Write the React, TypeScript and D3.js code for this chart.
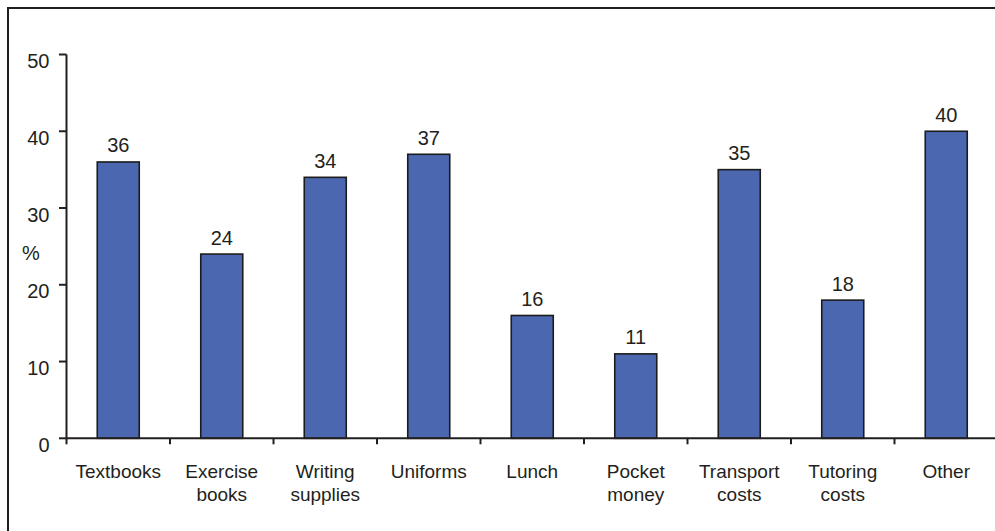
import React from "react";
import * as d3 from "d3";

const categories: string[][] = [
  ["Textbooks"],
  ["Exercise", "books"],
  ["Writing", "supplies"],
  ["Uniforms"],
  ["Lunch"],
  ["Pocket", "money"],
  ["Transport", "costs"],
  ["Tutoring", "costs"],
  ["Other"],
];
const values: number[] = [36, 24, 34, 37, 16, 11, 35, 18, 40];
const yTicks: number[] = [0, 10, 20, 30, 40, 50];
const yLabel = "%";

const W = 995;
const H = 531;
const FONT = "'Liberation Sans', Arial, sans-serif";

export default function App() {
  const x0 = 66.5;
  const band = 103.5;
  const x = d3
    .scaleBand<number>()
    .domain(d3.range(categories.length))
    .range([x0, x0 + band * categories.length])
    .paddingInner(0.6)
    .paddingOuter(0.3);
  const y = d3.scaleLinear().domain([0, 50]).range([438.3, 54.5]);
  const barW = 42;
  const cx = (i: number) => x0 + band * i + band / 2;

  return (
    <svg
      width={W}
      height={H}
      style={{ position: "absolute", left: 0, top: 0, display: "block" }}
      fontFamily={FONT}
    >
      <rect x={0} y={0} width={W} height={H} fill="#fff" />
      {/* frame */}
      <rect x={8} y={8} width={W + 10} height={H + 10} fill="none" stroke="#231f20" strokeWidth={2} />

      {/* bars */}
      {values.map((v, i) => (
        <g key={i}>
          <rect
            x={cx(i) - barW / 2}
            y={y(v)}
            width={barW}
            height={y(0) - y(v)}
            fill="#4a67af"
            stroke="#1c1c1c"
            strokeWidth={1.6}
          />
          <text
            x={cx(i)}
            y={y(v) - 9.5}
            textAnchor="middle"
            fontSize={20}
            fill="#231f20"
          >
            {v}
          </text>
        </g>
      ))}

      {/* y axis */}
      <line x1={x0} x2={x0} y1={y(50)} y2={y(0)} stroke="#231f20" strokeWidth={2} />
      {yTicks.map((t) => (
        <g key={t}>
          <line x1={59} x2={x0} y1={y(t)} y2={y(t)} stroke="#231f20" strokeWidth={2} />
          <text x={49.5} y={y(t) + 13.5} textAnchor="end" fontSize={20} fill="#231f20">
            {t}
          </text>
        </g>
      ))}
      <text x={22} y={260} fontSize={20} fill="#231f20">
        {yLabel}
      </text>

      {/* x axis */}
      <line x1={x0} x2={x0 + band * categories.length} y1={y(0)} y2={y(0)} stroke="#231f20" strokeWidth={2} />
      {d3.range(categories.length + 1).map((k) => (
        <line
          key={k}
          x1={x0 + band * k}
          x2={x0 + band * k}
          y1={y(0)}
          y2={y(0) + 6}
          stroke="#231f20"
          strokeWidth={2}
        />
      ))}
      {categories.map((lines, i) => (
        <text key={i} textAnchor="middle" fontSize={19} fill="#231f20">
          {lines.map((l, j) => (
            <tspan key={j} x={cx(i)} y={478 + j * 23}>
              {l}
            </tspan>
          ))}
        </text>
      ))}
    </svg>
  );
}
